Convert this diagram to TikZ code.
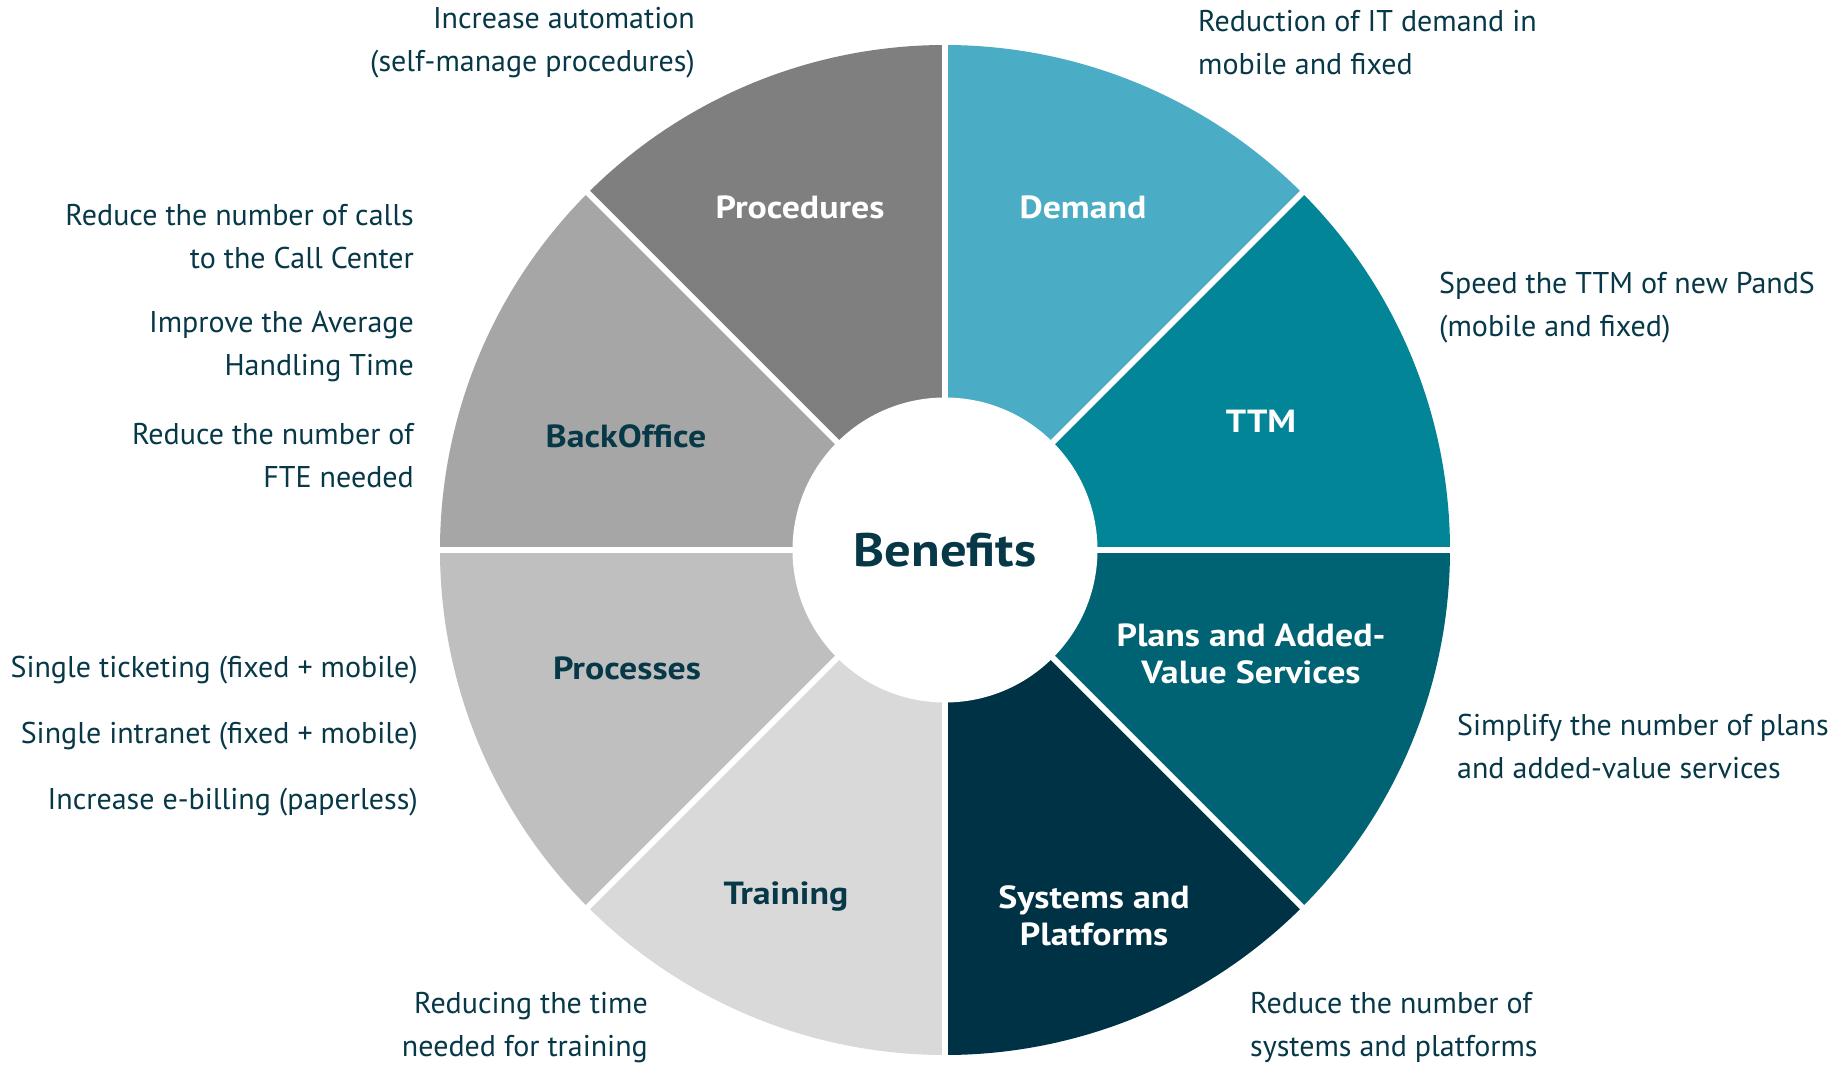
\documentclass[tikz,border=0pt]{standalone}
\usepackage{fontspec}
\setmainfont{PT Sans}
\newfontfamily\labelfont[FakeStretch=1.12]{PT Sans}
\definecolor{navy}{HTML}{073848}
\definecolor{demandc}{HTML}{4BACC6}
\definecolor{ttmc}{HTML}{028596}
\definecolor{plansc}{HTML}{006374}
\definecolor{systemsc}{HTML}{003246}
\definecolor{proceduresc}{HTML}{7F7F7F}
\definecolor{backofficec}{HTML}{A6A6A6}
\definecolor{processesc}{HTML}{BFBFBF}
\definecolor{trainingc}{HTML}{D9D9D9}
\begin{document}
\begin{tikzpicture}[x=1pt,y=1pt,
    note/.style={text=navy,inner sep=0pt,font=\fontsize{30}{43}\selectfont},
    seglabel/.style={font=\labelfont\fontsize{32}{37}\selectfont\bfseries,align=center},
    sector/.style={draw=none}]
  \useasboundingbox (-945,-516) rectangle (889,550);
  % ring sectors
  \begin{scope}[every path/.style={sector}]
    \fill[demandc] (0,0) -- (45:505) arc[start angle=45,end angle=90,radius=505] -- cycle;
    \fill[proceduresc] (0,0) -- (90:505) arc[start angle=90,end angle=135,radius=505] -- cycle;
    \fill[backofficec] (0,0) -- (135:505) arc[start angle=135,end angle=180,radius=505] -- cycle;
    \fill[processesc] (0,0) -- (180:505) arc[start angle=180,end angle=225,radius=505] -- cycle;
    \fill[trainingc] (0,0) -- (225:505) arc[start angle=225,end angle=270,radius=505] -- cycle;
    \fill[systemsc] (0,0) -- (270:505) arc[start angle=270,end angle=315,radius=505] -- cycle;
    \fill[plansc] (0,0) -- (315:505) arc[start angle=315,end angle=360,radius=505] -- cycle;
    \fill[ttmc] (0,0) -- (0:505) arc[start angle=0,end angle=45,radius=505] -- cycle;
  \end{scope}
  \begin{scope}[every path/.style={draw=white,line width=6pt}]
    \path (0,0) -- (0:510);
    \path (0,0) -- (45:510);
    \path (0,0) -- (90:510);
    \path (0,0) -- (135:510);
    \path (0,0) -- (180:510);
    \path (0,0) -- (225:510);
    \path (0,0) -- (270:510);
    \path (0,0) -- (315:510);
  \end{scope}
  \node[circle,fill=white,minimum size=305pt,text=navy,font=\labelfont\fontsize{47}{50}\selectfont\bfseries] (benefits) at (0,0) {Benefits};
  % sector labels
  \begin{scope}[every node/.style={seglabel}]
    \node[text=white] (procedures) at (-145,343) {Procedures};
    \node[text=white] (demand) at (138,343) {Demand};
    \node[text=white] (ttm) at (316,129) {TTM};
    \node[text=navy] (backoffice) at (-319,114) {BackOffice};
    \node[text=navy] (processes) at (-318,-118) {Processes};
    \node[text=white] (plans) at (306,-104) {Plans and Added-\\Value Services};
    \node[text=navy] (training) at (-159,-347) {Training};
    \node[text=white] (systems) at (149,-366) {Systems and\\Platforms};
  \end{scope}
  % notes around the ring
  \begin{scope}[every node/.style={note}]
    \node[anchor=east,align=right] (autom) at (-250,507.5) {Increase automation\\(self-manage procedures)};
    \node[anchor=west,align=left] (itdemand) at (253,507.5) {Reduction of IT demand in\\mobile and fixed};
    \node[anchor=east,align=right] (calls) at (-531,313.5) {Reduce the number of calls\\to the Call Center};
    \node[anchor=east,align=right] (aht) at (-531,203.5) {Improve the Average\\Handling Time};
    \node[anchor=east,align=right] (fte) at (-531,94.5) {Reduce the number of\\FTE needed};
    \node[anchor=west,align=left] (speed) at (494,242) {Speed the TTM of new PandS\\(mobile and fixed)};
    \node[anchor=east] (ticketing) at (-527,-120) {Single ticketing (fixed + mobile)};
    \node[anchor=east] (intranet) at (-527,-186) {Single intranet (fixed + mobile)};
    \node[anchor=east] (ebilling) at (-527,-252) {Increase e-billing (paperless)};
    \node[anchor=west,align=left] (simplify) at (512,-196.5) {Simplify the number of plans\\and added-value services};
    \node[anchor=east,align=right] (trtime) at (-297,-477.5) {Reducing the time\\needed for training};
    \node[anchor=west,align=left] (platforms) at (305,-477.5) {Reduce the number of\\systems and platforms};
  \end{scope}
\end{tikzpicture}
\end{document}
